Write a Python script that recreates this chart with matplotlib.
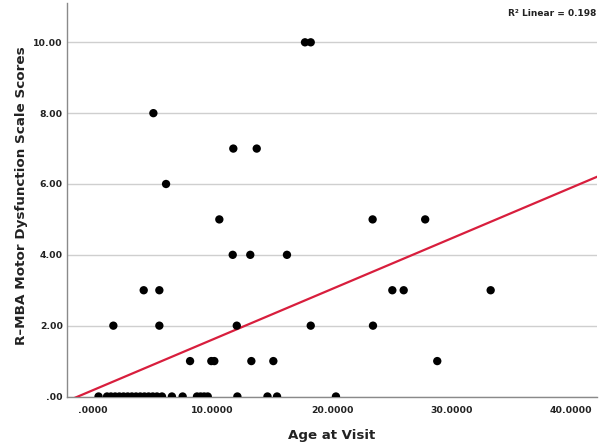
import matplotlib
matplotlib.use("Agg")
import matplotlib.pyplot as plt
import numpy as np

plt.rcParams['font.family'] = ['DejaVu Sans']

# Data
age_at_visit = [
    17.74, 18.22,                      # score 10
    5.05,                              # score 8
    11.74, 13.70,                      # score 7
    6.11,                              # score 6
    10.57, 23.4, 27.8,                 # score 5
    11.69, 13.16, 16.23,               # score 4
    4.24, 5.55, 25.05, 26.0, 33.28,    # score 3
    1.70, 5.55, 12.03, 18.22, 23.43,   # score 2
    8.12, 9.9, 10.15, 13.25, 15.09, 28.81,  # score 1
    0.46, 1.17, 1.5, 1.85, 2.2, 2.55, 2.9, 3.25, 3.6, 3.95, 4.3, 4.65,
    5.0, 5.35, 5.77, 6.6, 7.5, 8.7, 9.0, 9.3, 9.6, 12.08, 14.6, 15.4, 20.33,  # score 0
]
rmba_scores = (
    [10, 10] + [8] + [7, 7] + [6] + [5, 5, 5] + [4, 4, 4] + [3] * 5 + [2] * 5 + [1] * 6 + [0] * 25
)

fit_intercept = 0.18
fit_slope = 0.1428
r2_label = "R\u00b2 Linear = 0.198"

y_ticks = [0, 2, 4, 6, 8, 10]
y_tick_labels = [".00", "2.00", "4.00", "6.00", "8.00", "10.00"]
x_ticks = [0, 10, 20, 30, 40]
x_tick_labels = [".0000", "10.0000", "20.0000", "30.0000", "40.0000"]

fig = plt.figure(figsize=(6.0, 4.46), dpi=100)
ax = fig.add_axes([67 / 600, 1 - 396.5 / 446, 530 / 600, 393.5 / 446])

xlim = (-2.18, 42.18)
ylim = (0, 11.11)
ax.set_xlim(*xlim)
ax.set_ylim(*ylim)

# gridlines
ax.set_axisbelow(True)
ax.yaxis.grid(True, color='#cfcfcf', linewidth=1.0)
ax.xaxis.grid(False)

# regression line
xs = np.array(xlim)
ax.plot(xs, fit_intercept + fit_slope * xs, color='#d81e3d', linewidth=1.6, zorder=3)

# points
ax.scatter(age_at_visit, rmba_scores, s=36, color='black', edgecolors='none', zorder=4)

ax.set_xticks(x_ticks)
ax.set_xticklabels(x_tick_labels)
ax.set_yticks(y_ticks)
ax.set_yticklabels(y_tick_labels)
ax.tick_params(axis='both', length=0, labelsize=6.7, colors='#222222')
ax.tick_params(axis='y', pad=3)
ax.tick_params(axis='x', pad=6.5)
for lbl in ax.get_xticklabels() + ax.get_yticklabels():
    lbl.set_fontweight('bold')

for side in ['top', 'right']:
    ax.spines[side].set_visible(False)
for side in ['left', 'bottom']:
    ax.spines[side].set_color('#8a8a8a')
    ax.spines[side].set_linewidth(1.0)

ax.set_xlabel("Age at Visit", fontsize=9.6, fontweight='bold', color='#222222', va='center')
ax.xaxis.set_label_coords(0.5, -0.098)
ax.set_ylabel("R\u2013MBA Motor Dysfunction Scale Scores", fontsize=9.7, fontweight='bold',
              color='#222222', va='center')
ax.yaxis.set_label_coords(-0.0855, 0.51)

fig.text(596 / 600, 1 - 13 / 446, r2_label, ha='right', va='center', fontsize=6.5,
         fontweight='bold', color='#222222')

fig.savefig("out.png", dpi=100)
